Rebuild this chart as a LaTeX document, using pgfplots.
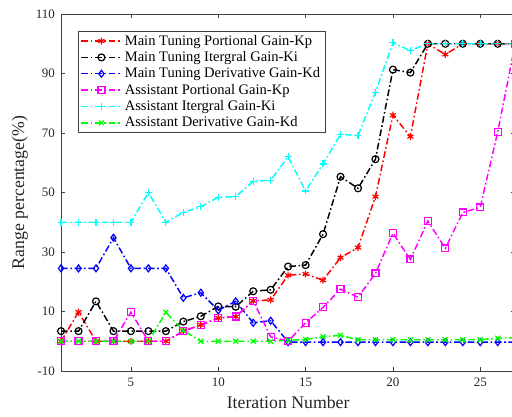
\documentclass[border=0pt]{standalone}
\usepackage{pgfplots}
\pgfplotsset{compat=1.18}
\usepackage{fontspec}
\setmainfont{Liberation Serif}
\definecolor{mred}{rgb}{1,0,0}
\definecolor{mmag}{rgb}{1,0,1}
\definecolor{mcyan}{rgb}{0,1,1}
\definecolor{mgreen}{rgb}{0,1,0}
\definecolor{mblue}{rgb}{0,0,1}
\definecolor{axgray}{rgb}{0.25,0.25,0.25}
\begin{document}
\begin{tikzpicture}
\begin{axis}[
  scale only axis,
  width=340.6pt, height=267.75pt,
  xmin=1, xmax=27, ymin=-10, ymax=110,
  xtick={5,10,15,20,25},
  ytick={-10,10,30,50,70,90,110},
  tick align=inside,
  major tick length=3pt,
  axis line style={axgray, line width=0.6pt},
  tick style={axgray, line width=0.6pt},
  /pgf/number format/assume math mode=true,
  ticklabel style={font=\fontsize{9.7}{11}\selectfont, text=black!85},
  xticklabel style={yshift=-1.5pt},
  yticklabel style={xshift=-1.2pt},
  xlabel={Iteration Number},
  ylabel={Range percentage(\%)},
  label style={font=\fontsize{13.3}{15}\selectfont, text=black!85},
  xlabel style={at={(axis description cs:0.5,0)}, anchor=north, yshift=-15.5pt},
  ylabel shift=-1pt,
  legend cell align=left,
  legend style={at={(axis description cs:0.0365,0.952)}, anchor=north west,
    draw=axgray, line width=0.6pt, font=\fontsize{10.9}{12}\selectfont,
    inner xsep=2pt, inner ysep=1pt, row sep=0pt,
    nodes={inner ysep=1.6pt, inner xsep=2pt}},
  legend image code/.code={\draw[mark repeat=2,mark phase=2] plot coordinates {(0pt,0pt)(15pt,0pt)(30pt,0pt)};},
  every axis plot/.append style={line width=1.1pt, dash pattern=on 5pt off 2pt on 1.2pt off 2pt, mark size=2.6pt, mark options={solid, line width=0.9pt}},
]
\addplot[color=mred, mark=asterisk] coordinates {
(1,0)(2,9.8)(3,0)(4,0)(5,0)(6,0)(7,0)(8,3.4)(9,5.5)(10,7.8)(11,8.3)(12,13.6)(13,13.9)(14,22.2)(15,22.6)(16,20.5)(17,28.1)(18,31.5)(19,48.6)(20,76)(21,68.8)(22,100)(23,96.4)(24,100)(25,100)(26,100)(27,100)};
\addlegendentry{Main Tuning Portional Gain-Kp}
\addplot[color=black, mark=o] coordinates {
(1,3.4)(2,3.4)(3,13.4)(4,3.4)(5,3.4)(6,3.4)(7,3.4)(8,6.6)(9,8.4)(10,11.7)(11,11.6)(12,16.8)(13,17.3)(14,25.1)(15,25.6)(16,36)(17,55.3)(18,51.4)(19,61.2)(20,91.3)(21,90.3)(22,100)(23,100)(24,100)(25,100)(26,100)(27,100)};
\addlegendentry{Main Tuning Itergral Gain-Ki}
\addplot[color=mblue, mark=diamond] coordinates {
(1,24.5)(2,24.5)(3,24.5)(4,34.8)(5,24.5)(6,24.5)(7,24.5)(8,14.6)(9,16.3)(10,10.4)(11,13.4)(12,6.2)(13,6.9)(14,-0.3)(15,-0.3)(16,-0.3)(17,-0.3)(18,-0.3)(19,-0.3)(20,-0.3)(21,-0.3)(22,-0.3)(23,-0.3)(24,-0.3)(25,-0.3)(26,-0.3)(27,-0.3)};
\addlegendentry{Main Tuning Derivative Gain-Kd}
\addplot[color=mmag, mark=square] coordinates {
(1,0)(2,0)(3,0)(4,0)(5,9.8)(6,0)(7,0)(8,3.4)(9,5.5)(10,7.8)(11,8.3)(12,13.6)(13,1.5)(14,0)(15,6.2)(16,11.4)(17,17.5)(18,14.8)(19,22.8)(20,36.3)(21,27.5)(22,40.4)(23,31.2)(24,43.3)(25,45)(26,70.4)(27,100)};
\addlegendentry{Assistant Portional Gain-Kp}
\addplot[color=mcyan, mark=+] coordinates {
(1,40)(2,40)(3,40)(4,40)(5,40)(6,50)(7,40)(8,43.3)(9,45.2)(10,48.4)(11,48.6)(12,53.8)(13,54.1)(14,62)(15,50.5)(16,59.6)(17,69.6)(18,69.1)(19,83.7)(20,100.3)(21,97.7)(22,100)(23,100)(24,100)(25,100)(26,100)(27,100)};
\addlegendentry{Assistant Itergral Gain-Ki}
\addplot[color=mgreen, mark=x] coordinates {
(1,0)(2,0)(3,0)(4,0)(5,0)(6,0)(7,9.7)(8,3.6)(9,0)(10,0)(11,0)(12,0)(13,0)(14,0.3)(15,0.6)(16,1.5)(17,2)(18,0.5)(19,0.5)(20,0.5)(21,0.5)(22,0.5)(23,0.5)(24,0.5)(25,0.5)(26,1.0)(27,1.2)};
\addlegendentry{Assistant Derivative Gain-Kd}
\end{axis}
\pgfresetboundingbox
\path[use as bounding box] ([shift={(-45.8pt,-34.5pt)}]current axis.south west) rectangle ([shift={(338.2pt,10.5pt)}]current axis.north west);
\end{tikzpicture}
\end{document}
